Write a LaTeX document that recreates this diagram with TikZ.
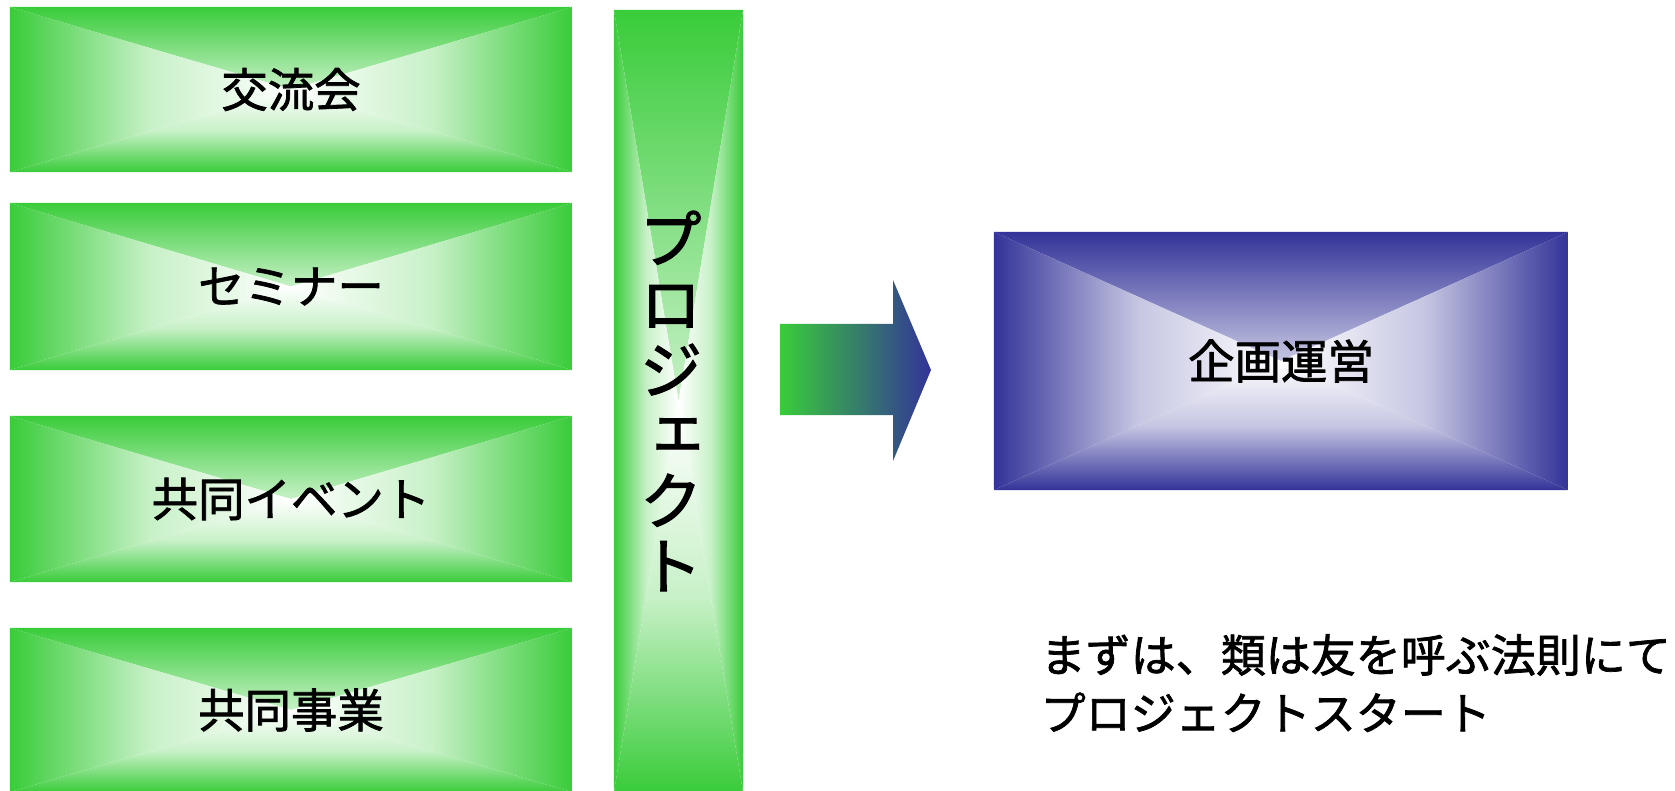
\documentclass[tikz,border=0pt]{standalone}
\usepackage{fontspec}
\setmainfont{Noto Sans CJK JP}[FakeBold=1.6]
\newfontfamily\tatefont{Noto Sans CJK JP}[RawFeature=+vert,FakeBold=1.6]
\definecolor{kgreen}{RGB}{57,204,57}
\definecolor{kblue}{RGB}{51,51,153}

% rectangular gradient: colour at the edges, white in the middle
\newcommand\fadefill[1]{%
  \shade[top color=#1,bottom color=white,middle color=#1!28!white]
    (path picture bounding box.north west) -- (path picture bounding box.north east)
    -- (path picture bounding box.center) -- cycle;
  \shade[top color=white,bottom color=#1,middle color=#1!28!white]
    (path picture bounding box.south west) -- (path picture bounding box.south east)
    -- (path picture bounding box.center) -- cycle;
  \shade[left color=#1,right color=white,middle color=#1!28!white]
    (path picture bounding box.north west) -- (path picture bounding box.south west)
    -- (path picture bounding box.center) -- cycle;
  \shade[left color=white,right color=#1,middle color=#1!28!white]
    (path picture bounding box.north east) -- (path picture bounding box.south east)
    -- (path picture bounding box.center) -- cycle;
}

\begin{document}
\begin{tikzpicture}[x=0.01cm, y=-0.01cm,
        fadebox/.style={inner sep=0pt, path picture={\fadefill{#1}}},
        boxlabel/.style={font=\fontsize{13.2}{15}\selectfont},
        notelabel/.style={font=\fontsize{12.8}{15}\selectfont}]
    \useasboundingbox (0,0) rectangle (1675,791);

    % left column
    \node[fadebox=kgreen,boxlabel,minimum width=5.62cm,minimum height=1.65cm] (kouryu) at (291, 89.5) {交流会};
    \node[fadebox=kgreen,boxlabel,minimum width=5.62cm,minimum height=1.67cm] (seminar) at (291, 286.5) {セミナー};
    \node[fadebox=kgreen,boxlabel,minimum width=5.62cm,minimum height=1.66cm] (event) at (291, 499) {共同イベント};
    \node[fadebox=kgreen,boxlabel,minimum width=5.62cm,minimum height=1.64cm] (jigyou) at (291, 710) {共同事業};

    % vertical bar
    \node[fadebox=kgreen,minimum width=1.29cm,minimum height=7.82cm] (project) at (678.5, 401) {};
    \node[align=center,inner sep=0pt,font=\tatefont\fontsize{18.2}{18.6}\selectfont] (projlabel) at (671, 401)
        {プ\\ロ\\ジ\\ェ\\ク\\ト};

    % block arrow
    \shade[left color=kgreen,right color=kblue] (780,324) -- (893,324) -- (893,280) -- (931,370)
        -- (893,461) -- (893,415) -- (780,415) -- cycle;

    \node[fadebox=kblue,boxlabel,minimum width=5.74cm,minimum height=2.58cm] (kikaku) at (1281, 361) {企画運営};

    \node[notelabel,anchor=base west,inner sep=0pt] (note1) at (1040, 672) {まずは、類は友を呼ぶ法則にて};
    \node[notelabel,anchor=base west,inner sep=0pt] (note2) at (1040, 730) {プロジェクトスタート};
\end{tikzpicture}
\end{document}
